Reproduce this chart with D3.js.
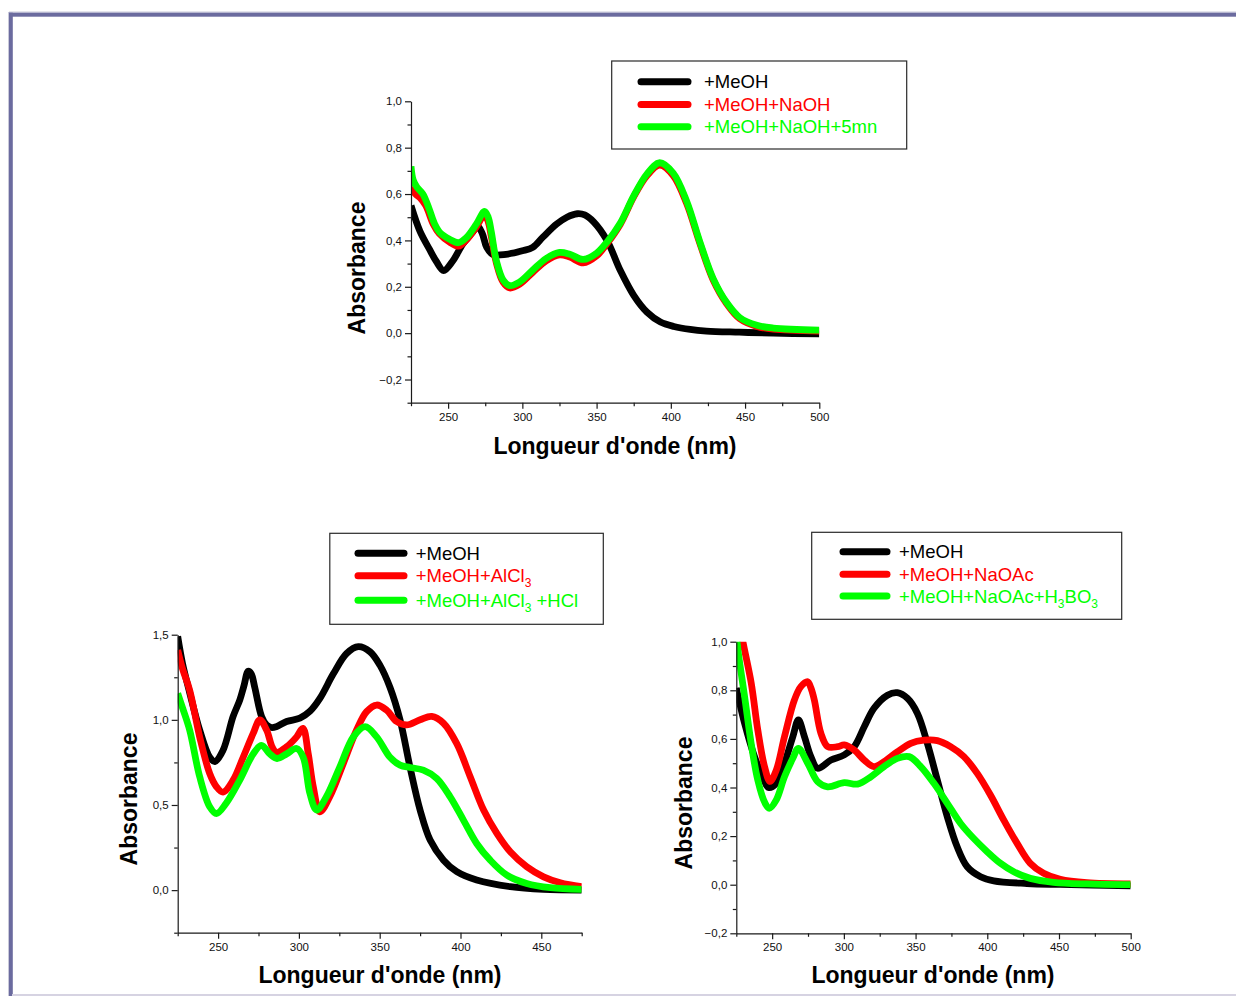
<!DOCTYPE html>
<html><head><meta charset="utf-8">
<script src="https://cdn.jsdelivr.net/npm/d3@7"></script>
<style>
body{margin:0;background:#fff}
svg{display:block}
text{font-family:"Liberation Sans",Arial,Helvetica,sans-serif}
</style>
</head><body>
<svg id="c" width="1236" height="996"></svg>
<script>
// ---------------- DATA ----------------
// Panel 1 (top): wavelength (nm), absorbance
const topMeOH = [[225,0.55],[231,0.44],[237.6,0.36],[242,0.31],[247,0.27],[253,0.31],[260,0.385],[267,0.44],[270,0.46],[273,0.43],[276,0.37],[280,0.34],[289,0.34],[300,0.355],[307,0.37],[314,0.415],[323,0.47],[330,0.5],[337,0.515],[342,0.51],[348,0.48],[357,0.40],[366,0.27],[375,0.163],[384,0.09],[393,0.048],[402,0.029],[413,0.016],[424,0.009],[446,0.004],[469,0],[500,-0.003]];
const topNaOH = [[225,0.63],[228,0.6],[231,0.585],[235,0.55],[240,0.47],[244,0.43],[251,0.393],[257,0.375],[262,0.40],[269,0.458],[274.5,0.51],[277,0.48],[279,0.42],[282.6,0.30],[287,0.22],[291.5,0.195],[298,0.21],[307,0.262],[316,0.312],[325,0.338],[332,0.328],[341,0.303],[350,0.333],[357,0.386],[366,0.47],[375,0.588],[384,0.68],[392.5,0.725],[401.6,0.68],[410.6,0.56],[419.6,0.386],[428.6,0.228],[437.6,0.127],[446.5,0.062],[458,0.029],[469,0.017],[500,0.009]];
const topNaOH5 = [[225,0.72],[226.5,0.66],[229,0.63],[233,0.6],[237,0.54],[241,0.47],[245,0.43],[251,0.405],[257,0.39],[262,0.41],[269,0.47],[274.5,0.525],[277,0.5],[279,0.44],[282.6,0.31],[287,0.23],[291.5,0.205],[298,0.22],[307,0.272],[316,0.322],[325,0.348],[332,0.34],[341,0.318],[350,0.345],[357,0.393],[366,0.475],[375,0.592],[384,0.687],[392.5,0.735],[401.6,0.69],[410.6,0.57],[419.6,0.393],[428.6,0.234],[437.6,0.132],[446.5,0.067],[458,0.034],[469,0.022],[500,0.013]];

// Panel 2 (bottom left)
const blMeOH = [[225,1.49],[228,1.33],[232.4,1.16],[238.6,0.94],[244.8,0.78],[248,0.755],[253,0.82],[259.3,1.02],[263.4,1.116],[266,1.2],[268.6,1.285],[270.5,1.27],[272.7,1.19],[276.9,1.02],[280,0.97],[283,0.955],[286,0.96],[292.4,0.99],[300.6,1.01],[306.8,1.05],[313,1.126],[321.3,1.27],[329.5,1.39],[336.8,1.43],[344,1.40],[350.2,1.32],[356.4,1.19],[362.6,1.0],[368.8,0.72],[375,0.47],[381.2,0.294],[389.5,0.176],[397.7,0.108],[410,0.059],[430.8,0.02],[451.4,0.004],[475,0.0]];
const blAlCl3 = [[225,1.41],[228,1.3],[232.4,1.175],[238.6,0.90],[244.8,0.685],[249,0.607],[253,0.575],[259.3,0.646],[265.5,0.78],[271.7,0.92],[275.8,1.0],[280,0.94],[283.5,0.84],[286,0.81],[292.4,0.842],[298.6,0.90],[302.5,0.95],[305.8,0.80],[308.9,0.607],[313,0.46],[319.2,0.55],[327.5,0.744],[335.7,0.94],[341.9,1.048],[348.1,1.087],[354.3,1.057],[360.5,0.99],[366.7,0.97],[375,1.0],[382.2,1.02],[389.5,0.98],[397.7,0.86],[406,0.666],[414.3,0.47],[422.5,0.333],[430.8,0.225],[441,0.137],[451.4,0.078],[461.8,0.043],[475,0.02]];
const blAlCl3HCl = [[225,1.155],[228,1.07],[232.4,0.94],[238.6,0.666],[244.8,0.49],[249,0.45],[255,0.51],[263.4,0.646],[271.7,0.80],[276.9,0.85],[282,0.80],[286.5,0.773],[292.4,0.80],[298.6,0.832],[302.7,0.78],[306.8,0.568],[311,0.47],[317,0.548],[325.4,0.725],[333.7,0.90],[341,0.96],[348.1,0.90],[356.4,0.78],[362.6,0.734],[368.8,0.72],[377,0.705],[385.3,0.656],[393.6,0.548],[401.9,0.41],[410,0.274],[418.4,0.176],[428.7,0.088],[441,0.039],[455.6,0.014],[475,0.004]];

// Panel 3 (bottom right)
const brMeOH = [[225,0.81],[230.8,0.664],[237.7,0.527],[242.4,0.458],[247.5,0.40],[252.8,0.417],[258.6,0.50],[264.4,0.609],[268.3,0.678],[272.5,0.609],[277,0.527],[281.7,0.479],[291,0.513],[300.3,0.534],[307.2,0.568],[314.2,0.65],[321,0.726],[330.4,0.78],[337.3,0.79],[344.3,0.767],[351.3,0.705],[358.2,0.582],[365.2,0.43],[372.1,0.28],[379,0.156],[386,0.074],[395.3,0.033],[404.5,0.016],[427.7,0.005],[450.9,0.001],[500,-0.005]];
const brNaOAc = [[225,1.15],[229.6,1.0],[235.4,0.83],[240,0.636],[244.7,0.486],[248.5,0.425],[252.8,0.47],[258.6,0.609],[265.5,0.76],[270,0.815],[274.8,0.835],[277,0.81],[279.4,0.76],[284,0.623],[288.7,0.568],[295.6,0.568],[300.3,0.575],[307.2,0.554],[314.2,0.513],[321,0.486],[328,0.506],[337.3,0.547],[346.6,0.582],[355.9,0.595],[365.2,0.593],[374.4,0.568],[383.7,0.527],[393,0.458],[402.2,0.369],[411.5,0.266],[420.8,0.17],[430,0.088],[439.3,0.047],[450.9,0.022],[469.4,0.008],[500,0.003]];
const brNaOAcH3BO3 = [[225,1.03],[226.5,0.95],[230.8,0.774],[235.4,0.58],[240,0.43],[244.7,0.34],[248,0.314],[252.8,0.348],[258.6,0.444],[264.4,0.52],[268.3,0.561],[274.8,0.50],[281.7,0.424],[288.7,0.403],[300.3,0.42],[309.5,0.414],[318.8,0.444],[328,0.486],[337.3,0.52],[345.5,0.527],[353.6,0.486],[362.8,0.417],[372.1,0.335],[381.4,0.252],[390.6,0.19],[399.9,0.136],[409.2,0.088],[418.5,0.053],[430,0.026],[446.2,0.01],[469.4,0.003],[500,0.0]];

// Tick values
const xTicksTop = [250,300,350,400,450,500];
const xMinorTop = [225,275,325,375,425,475];
const yTicksTop = [-0.2,0,0.2,0.4,0.6,0.8,1.0];
const yMinorTop = [-0.3,-0.1,0.1,0.3,0.5,0.7,0.9];
const xTicksBL = [250,300,350,400,450];
const xMinorBL = [225,275,325,375,425,475];
const yTicksBL = [0,0.5,1.0,1.5];
const yMinorBL = [-0.25,0.25,0.75,1.25];
const xTicksBR = [250,300,350,400,450,500];
const xMinorBR = [225,275,325,375,425,475];
const yTicksBR = [-0.2,0,0.2,0.4,0.6,0.8,1.0];
const yMinorBR = [-0.1,0.1,0.3,0.5,0.7,0.9];

// Legend labels: alternating normal text / subscript
const legendTop = [["+MeOH"],["+MeOH+NaOH"],["+MeOH+NaOH+5mn"]];
const legendBL = [["+MeOH"],["+MeOH+AlCl","3"],["+MeOH+AlCl","3"," +HCl"]];
const legendBR = [["+MeOH"],["+MeOH+NaOAc"],["+MeOH+NaOAc+H","3","BO","3"]];

const seriesColors = ["#000000","#ff0000","#00ff00"];
const xTitle = "Longueur d'onde (nm)";
const yTitle = "Absorbance";

// ---------------- DRAWING ----------------
const svg = d3.select("#c");
svg.append("rect").attr("width",1236).attr("height",996).attr("fill","#fff");

// frame
svg.append("rect").attr("x",9).attr("y",11.5).attr("width",1227).attr("height",1.2).attr("fill","#c9c9da");
svg.append("rect").attr("x",8).attr("y",12).attr("width",1.2).attr("height",984).attr("fill","#c9c9da");
svg.append("rect").attr("x",9).attr("y",12.7).attr("width",1227).attr("height",4).attr("fill","#6b6b9f");
svg.append("rect").attr("x",9).attr("y",12.7).attr("width",3.8).attr("height",984).attr("fill","#6b6b9f");
svg.append("rect").attr("x",12).attr("y",994).attr("width",1224).attr("height",2).attr("fill","#d6d3e2");

const fmt = d => d3.format(".1f")(d).replace(".", ",").replace("-0,0","0,0");

let clipId = 0;
function panel(cfg){
  const x = d3.scaleLinear().domain(cfg.xDom).range(cfg.xRange);
  const y = d3.scaleLinear().domain(cfg.yDom).range(cfg.yRange);
  const g = svg.append("g");
  const id = "clip" + (clipId++);
  g.append("clipPath").attr("id", id).append("rect")
    .attr("x", cfg.xRange[0]).attr("y", cfg.yRange[1])
    .attr("width", cfg.xRange[1]-cfg.xRange[0]).attr("height", cfg.yRange[0]-cfg.yRange[1]);

  const line = d3.line().x(d=>x(d[0])).y(d=>y(d[1])).curve(d3.curveCatmullRom.alpha(0.5));
  const lg = g.append("g").attr("clip-path", `url(#${id})`);
  cfg.series.forEach((s,i)=>{
    lg.append("path").attr("d", line(s)).attr("fill","none")
      .attr("stroke", seriesColors[i]).attr("stroke-width", 6.8)
      .attr("stroke-linejoin","round").attr("stroke-linecap","butt");
  });

  // axes
  const styleAxis = a => {
    a.selectAll("path,line").attr("stroke","#1a1a1a").attr("stroke-width",1.2);
    a.selectAll("text").attr("font-size",11.5).attr("fill","#111")
      .attr("font-family","'Liberation Sans',Arial,sans-serif");
  };
  const xa = g.append("g").attr("transform",`translate(0,${cfg.yRange[0]})`)
    .call(d3.axisBottom(x).tickValues(cfg.xTicks).tickSize(6).tickSizeOuter(0).tickPadding(4).tickFormat(d3.format("d")));
  styleAxis(xa);
  const xm = g.append("g").attr("transform",`translate(0,${cfg.yRange[0]})`)
    .call(d3.axisBottom(x).tickValues(cfg.xMinor).tickSize(3.5).tickSizeOuter(0).tickFormat(""));
  styleAxis(xm); xm.select("path").remove();
  const ya = g.append("g").attr("transform",`translate(${cfg.xRange[0]},0)`)
    .call(d3.axisLeft(y).tickValues(cfg.yTicks).tickSize(6).tickSizeOuter(0).tickPadding(3).tickFormat(fmt));
  styleAxis(ya);
  const ym = g.append("g").attr("transform",`translate(${cfg.xRange[0]},0)`)
    .call(d3.axisLeft(y).tickValues(cfg.yMinor).tickSize(3.5).tickSizeOuter(0).tickFormat(""));
  styleAxis(ym); ym.select("path").remove();

  // titles
  g.append("text").attr("x", cfg.xTitlePos[0]).attr("y", cfg.xTitlePos[1])
    .attr("text-anchor","middle").attr("font-size",23).attr("font-weight","bold").attr("fill","#000")
    .text(xTitle);
  g.append("text").attr("transform",`translate(${cfg.yTitlePos[0]},${cfg.yTitlePos[1]}) rotate(-90)`)
    .attr("text-anchor","middle").attr("font-size",23).attr("font-weight","bold").attr("fill","#000")
    .text(yTitle);

  // legend
  const L = cfg.legend;
  g.append("rect").attr("x",L.box[0]).attr("y",L.box[1]).attr("width",L.box[2]).attr("height",L.box[3])
    .attr("fill","#fff").attr("stroke","#2a2a2a").attr("stroke-width",1.2);
  L.labels.forEach((lab,i)=>{
    const cy = L.rows[i];
    g.append("line").attr("x1",L.lineX[0]).attr("x2",L.lineX[1]).attr("y1",cy).attr("y2",cy)
      .attr("stroke",seriesColors[i]).attr("stroke-width",7).attr("stroke-linecap","round");
    const t = g.append("text").attr("x",L.textX).attr("y",cy+6.5)
      .attr("font-size",18.5).attr("fill",seriesColors[i]);
    lab.forEach((part,j)=>{
      if(j%2===0){
        t.append("tspan").attr("dy", j===0?0:-5).text(part);
      } else {
        t.append("tspan").attr("dy",5).attr("font-size",12).text(part);
      }
    });
  });
}

panel({
  xDom:[225,500], xRange:[411,819.3], yDom:[-0.3,1.0], yRange:[402.7,101.3],
  series:[topMeOH, topNaOH, topNaOH5],
  xTicks:xTicksTop, xMinor:xMinorTop, yTicks:yTicksTop, yMinor:yMinorTop,
  xTitlePos:[615,454], yTitlePos:[365,268],
  legend:{box:[611.7,61,295,88], lineX:[641,688], rows:[81.7,104.5,126.7], textX:704, labels:legendTop}
});
panel({
  xDom:[225,475], xRange:[177.7,581.7], yDom:[-0.25,1.5], yRange:[932.7,634.7],
  series:[blMeOH, blAlCl3, blAlCl3HCl],
  xTicks:xTicksBL, xMinor:xMinorBL, yTicks:yTicksBL, yMinor:yMinorBL,
  xTitlePos:[380,983], yTitlePos:[137,799],
  legend:{box:[329.8,533.3,273.5,91], lineX:[358,404], rows:[553.3,575.7,600.3], textX:415.7, labels:legendBL}
});
panel({
  xDom:[225,500], xRange:[736.3,1130.7], yDom:[-0.2,1.0], yRange:[933.3,641.7],
  series:[brMeOH, brNaOAc, brNaOAcH3BO3],
  xTicks:xTicksBR, xMinor:xMinorBR, yTicks:yTicksBR, yMinor:yMinorBR,
  xTitlePos:[933,983], yTitlePos:[692,803],
  legend:{box:[811.7,532.3,310,87], lineX:[843,887], rows:[551.7,574.3,596], textX:899, labels:legendBR}
});
</script>
</body></html>
